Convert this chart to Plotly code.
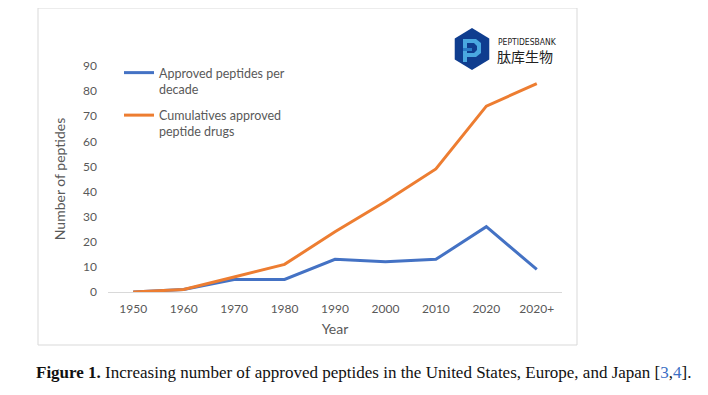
import math
import plotly.graph_objects as go

years = ["1950", "1960", "1970", "1980", "1990", "2000", "2010", "2020", "2020+"]
per_decade = [0, 1, 5, 5, 13, 12, 13, 26, 9]
cumulative = [0, 1, 6, 11, 24, 36, 49, 74, 83]
y_ticks = [0, 10, 20, 30, 40, 50, 60, 70, 80, 90]

OFF = 8  # page body margin
W, H = 708 - OFF, 395 - OFF
L, R, T, B = 108, 562, 66, 292  # plot area in screenshot pixels

def px(x):
    return (x - L) / (R - L)

def py(y):
    return (B - y) / (B - T)

FONT = "Lato"
GRAY = "#595959"

fig = go.Figure()
fig.add_trace(go.Scatter(x=years, y=per_decade, mode="lines",
                         name="Approved peptides per<br>decade", legendgroup="a",
                         line=dict(color="#4472C4", width=3)))
fig.add_trace(go.Scatter(x=years, y=cumulative, mode="lines",
                         name="Cumulatives approved<br>peptide drugs", legendgroup="b",
                         line=dict(color="#ED7D31", width=3)))

shapes = []
shapes.append(dict(type="rect", xref="paper", yref="paper",
                   x0=px(38), x1=px(577), y0=py(8), y1=py(345),
                   line=dict(color="#d9d9d9", width=1), layer="below"))
cx, cy, r = 472, 49, 21
pts = []
for k in range(6):
    a = math.radians(90 + 60 * k)
    pts.append((cx + r * math.cos(a) * 0.95, cy - r * math.sin(a)))
path = "M " + " L ".join(f"{px(x)},{py(y)}" for x, y in pts) + " Z"
shapes.append(dict(type="path", xref="paper", yref="paper", path=path,
                   fillcolor="#0f3d8f", line=dict(width=0)))

def poly(points, color):
    p = "M " + " L ".join(f"{px(x)},{py(y)}" for x, y in points) + " Z"
    shapes.append(dict(type="path", xref="paper", yref="paper", path=p,
                       fillcolor=color, line=dict(width=0)))

poly([(463, 39), (467, 39), (467, 62), (463, 62)], "#4aa8e0")
poly([(467, 39), (476, 39), (481, 43), (481, 53), (476, 57), (467, 57),
      (467, 53), (474, 53), (477, 50), (477, 46), (474, 43), (467, 43)], "#4aa8e0")
poly([(463, 48), (472, 48), (472, 51), (463, 51)], "#2a7cc7")

annotations = [
    dict(text="PEPTIDESBANK", x=px(496), y=py(42), xref="paper", yref="paper",
         xanchor="left", yanchor="middle", showarrow=False,
         font=dict(family="DejaVu Sans Condensed, DejaVu Sans", size=8.5, color="#222")),
    dict(text="肽库生物", x=px(495), y=py(56), xref="paper", yref="paper",
         xanchor="left", yanchor="middle", showarrow=False,
         font=dict(family="Noto Sans CJK SC", size=14, color="#222")),
    dict(text="<b>Figure 1.</b> Increasing number of approved peptides in the United States, Europe, and Japan "
              "[<span style='color:#3b6fc4'>3</span>,<span style='color:#3b6fc4'>4</span>].",
         x=px(34), y=py(372), xref="paper", yref="paper",
         xanchor="left", yanchor="middle", showarrow=False,
         font=dict(family="Liberation Serif", size=17, color="#111")),
]

fig.update_layout(
    width=W, height=H,
    margin=dict(l=L - OFF, r=W - (R - OFF), t=T - OFF, b=H - (B - OFF), pad=0),
    paper_bgcolor="white", plot_bgcolor="white",
    font=dict(family=FONT, color=GRAY, size=12),
    showlegend=True,
    legend=dict(x=px(119), y=py(58), xref="paper", yref="paper",
                xanchor="left", yanchor="top", valign="top",
                bgcolor="rgba(0,0,0,0)", itemwidth=30,
                font=dict(family=FONT, size=12.5, color=GRAY),
                tracegroupgap=7),
    xaxis=dict(type="category", range=[-0.5, 8.5], showgrid=False,
               showline=True, linecolor="#d9d9d9", linewidth=1,
               ticks="", ticklabelstandoff=6,
               tickfont=dict(family=FONT, size=12, color=GRAY),
               title=dict(text="Year", font=dict(family=FONT, size=14, color=GRAY), standoff=8),
               zeroline=False),
    yaxis=dict(range=[0, 90], tickvals=y_ticks, showgrid=False, zeroline=False,
               showline=False, ticks="", ticklabelstandoff=10,
               tickfont=dict(family=FONT, size=12, color=GRAY),
               title=dict(text="Number of peptides", font=dict(family=FONT, size=14, color=GRAY), standoff=14)),
    shapes=shapes, annotations=annotations,
)

fig.write_html("out.html")
